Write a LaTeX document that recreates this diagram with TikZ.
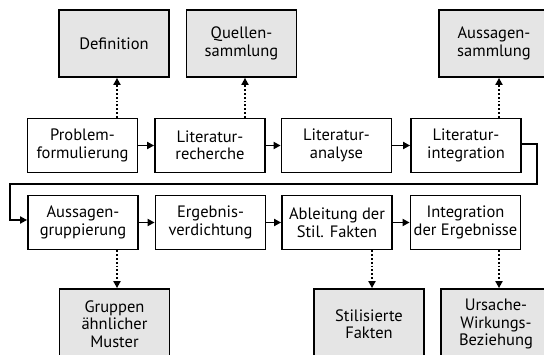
\documentclass[tikz,border=0pt]{standalone}
\usepackage{fontspec}
\setmainfont{PT Sans}
\usetikzlibrary{arrows.meta}
\begin{document}
\begin{tikzpicture}[x=1pt,y=-1pt,
  box/.style={draw=black,line width=1.8pt,fill=white,rectangle,align=center,
    font=\fontsize{16.5}{17.5}\selectfont,inner sep=0pt},
  proc/.style={box,minimum width=110pt,minimum height=54pt},
  res/.style={box,fill=gray!20,minimum width=110pt,minimum height=67pt},
  flow/.style={line width=1.8pt,-{Triangle[length=7pt,width=7pt]}},
  dot/.style={line width=1.8pt,dotted,-{Triangle[length=7pt,width=7pt]}}]
\useasboundingbox (0,0) rectangle (544,355);
\clip (0,0) rectangle (544,355);
\fill[white] (0,0) rectangle (544,355);
% top results
\node[res] (def) at (114,43.5) {Definition};
\node[res] (quel) at (241.5,43.5) {Quellen-\\sammlung};
\node[res] (auss) at (494,43.5) {Aussagen-\\sammlung};
% row 1
\node[proc] (prob) at (82.5,145.5) {Problem-\\formulierung};
\node[proc] (rech) at (210,145.5) {Literatur-\\recherche};
\node[proc] (anal) at (336.5,145.5) {Literatur-\\analyse};
\node[proc] (inte) at (466,145.5) {Literatur-\\integration};
% row 2
\node[proc] (grup) at (83,222.5) {Aussagen-\\gruppierung};
\node[proc] (verd) at (210.5,222.5) {Ergebnis-\\verdichtung};
\node[proc] (able) at (337,222.5) {Ableitung der\\Stil. Fakten};
\node[proc] (iger) at (465.5,222.5) {Integration\\der Ergebnisse};
% bottom results
\node[res,minimum height=70pt] (musr) at (114.5,324) {Gruppen\\ähnlicher\\Muster};
\node[res,minimum height=70pt] (stil) at (369,324) {Stilisierte\\Fakten};
\node[res,minimum height=70pt] (ursa) at (496,324) {Ursache-\\Wirkungs-\\Beziehung};
% flows
\draw[flow] (prob) -- (rech);
\draw[flow] (rech) -- (anal);
\draw[flow] (anal) -- (inte);
\draw[flow] (grup) -- (verd);
\draw[flow] (verd) -- (able);
\draw[flow] (able) -- (iger);
\coordinate (c1) at (537,144);
\coordinate (c2) at (537,184);
\coordinate (c3) at (10,184);
\coordinate (c4) at (10,220);
\draw[flow] (inte.east |- c1) -- (c1) -- (c2) -- (c3) -- (c4) -- (grup.west |- c4);
% dotted
\draw[dot] (prob.north -| 117,0) -- (def.south -| 117,0);
\draw[dot] (rech.north -| 245,0) -- (quel.south -| 245,0);
\draw[dot] (inte.north -| 499,0) -- (auss.south -| 499,0);
\draw[dot] (grup.south -| 117,0) -- (musr.north -| 117,0);
\draw[dot] (able.south -| 372,0) -- (stil.north -| 372,0);
\draw[dot] (iger.south -| 499,0) -- (ursa.north -| 499,0);
\end{tikzpicture}
\end{document}
